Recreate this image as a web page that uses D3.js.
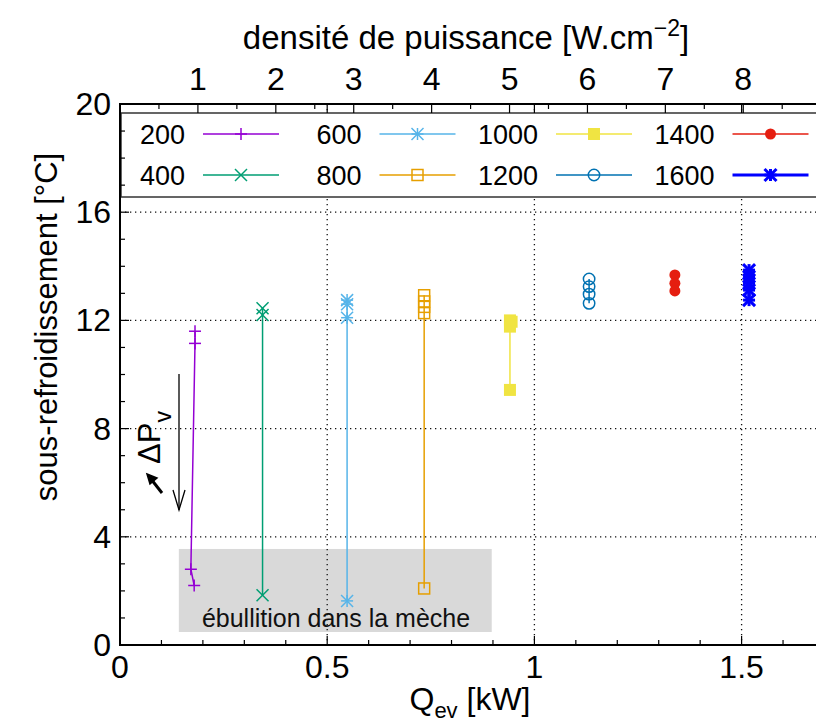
<!DOCTYPE html>
<html><head><meta charset="utf-8">
<script src="https://cdn.jsdelivr.net/npm/d3@7"></script>
<style>body{margin:0;background:#fff}svg{display:block;font-family:"Liberation Sans",Arial,sans-serif}</style>
</head><body><svg id="c" width="816" height="726"></svg>
<script>
// ---- data ----
const seriesLabels = ["200","400","600","800","1000","1200","1400","1600"];
const seriesColors = ["#9400d3","#009e73","#56b4e9","#e69f00","#f0e442","#0072b2","#e51e10","#0000ff"];
const seriesMarkers = ["plus","cross","star","sqOpen","sqFill","circOpen","circFill","star"];
const q200 = [0.181,0.181,0.171,0.179],          t200 = [11.6,11.15,2.8,2.2];
const q400 = [0.344,0.344,0.344],                t400 = [12.45,12.2,1.84];
const q600 = [0.548,0.548,0.548,0.548],          t600 = [12.75,12.6,12.1,1.63];
const q800 = [0.734,0.734,0.734,0.734,0.734],    t800 = [12.93,12.7,12.5,12.27,2.09];
const q1000 = [0.941,0.945,0.941,0.941],         t1000 = [12.0,11.95,11.77,9.43];
const q1200 = [1.132,1.132,1.132,1.132],         t1200 = [13.53,13.25,12.97,12.63];
const q1400 = [1.339,1.339,1.339],               t1400 = [13.68,13.37,13.09];
const q1600 = [1.518,1.518,1.518,1.518,1.518],   t1600 = [13.86,13.62,13.37,13.12,12.75];
const xTicks = [0,0.5,1,1.5];
const xMinor = [0.1,0.2,0.3,0.4,0.6,0.7,0.8,0.9,1.1,1.2,1.3,1.4,1.6];
const yTicks = [0,4,8,12,16,20];
const yMinor = [1,2,3,5,6,7,9,10,11,13,14,15,17,18,19];
const x2Ticks = [1,2,3,4,5,6,7,8];
const x2Minor = [0.5,1.5,2.5,3.5,4.5,5.5,6.5,7.5,8.5];
const boilBox = {x0:0.142, x1:0.897, y0:0.48, y1:3.55};

const qs = [q200,q400,q600,q800,q1000,q1200,q1400,q1600];
const ts = [t200,t400,t600,t800,t1000,t1200,t1400,t1600];

// ---- layout ----
const L=120, T=104, B=645;
const x = d3.scaleLinear().domain([0,1.7]).range([L, L+1.7*414.4]);
const x2 = d3.scaleLinear().domain([0,1.7*1000/188]).range([L, L+1.7*414.4]);
const y = d3.scaleLinear().domain([0,20]).range([B,T]);
const svg = d3.select("#c");
const W = 900;

// gray box
svg.append("rect").attr("x",x(boilBox.x0)).attr("y",y(boilBox.y1))
  .attr("width",x(boilBox.x1)-x(boilBox.x0)).attr("height",y(boilBox.y0)-y(boilBox.y1))
  .attr("fill","#d9d9d9");

// grid
const grid = svg.append("g").attr("stroke","#111").attr("stroke-width",1.3).attr("stroke-dasharray","1.3,3.7");
yTicks.filter(v=>v>0&&v<20).forEach(v=>grid.append("line").attr("x1",L).attr("x2",W).attr("y1",y(v)).attr("y2",y(v)));
xTicks.filter(v=>v>0).forEach(v=>grid.append("line").attr("x1",x(v)).attr("x2",x(v)).attr("y1",T).attr("y2",B));

svg.append("text").attr("x",336).attr("y",627).attr("text-anchor","middle")
  .attr("font-size",25).attr("fill","#111").text("ébullition dans la mèche");

// markers
function marker(g, type, cx, cy, color, sw){
  const s=6;
  const ln=(a,b,c,d)=>g.append("line").attr("x1",a).attr("y1",b).attr("x2",c).attr("y2",d).attr("stroke",color).attr("stroke-width",sw);
  if(type==="plus"||type==="star"){ln(cx-s,cy,cx+s,cy);ln(cx,cy-s,cx,cy+s);}
  if(type==="cross"||type==="star"){ln(cx-s,cy-s,cx+s,cy+s);ln(cx-s,cy+s,cx+s,cy-s);}
  if(type==="sqOpen") g.append("rect").attr("x",cx-5.5).attr("y",cy-5.5).attr("width",11).attr("height",11).attr("fill","none").attr("stroke",color).attr("stroke-width",sw);
  if(type==="sqFill") g.append("rect").attr("x",cx-6).attr("y",cy-6).attr("width",12).attr("height",12).attr("fill",color);
  if(type==="circOpen") g.append("circle").attr("cx",cx).attr("cy",cy).attr("r",5.7).attr("fill","none").attr("stroke",color).attr("stroke-width",sw);
  if(type==="circFill") g.append("circle").attr("cx",cx).attr("cy",cy).attr("r",5.5).attr("fill",color);
}

const line = d3.line().x(d=>x(d[0])).y(d=>y(d[1]));
qs.forEach((q,i)=>{
  const pts = q.map((v,j)=>[v,ts[i][j]]);
  const sw = i===7?3:1.5;
  const g = svg.append("g");
  g.append("path").attr("d",line(pts)).attr("fill","none").attr("stroke",seriesColors[i]).attr("stroke-width",sw);
  pts.forEach(p=>marker(g,seriesMarkers[i],x(p[0]),y(p[1]),seriesColors[i],i===7?3:1.5));
});

// legend
svg.append("rect").attr("x",121).attr("y",113).attr("width",W).attr("height",84)
  .attr("fill","#fff").attr("stroke","#333").attr("stroke-width",1.5);
seriesLabels.forEach((lab,i)=>{
  const col=Math.floor(i/2), row=i%2;
  const cx0 = 120 + col*176.5, cy = row===0?134:175;
  svg.append("text").attr("x",cx0+65).attr("y",cy+10).attr("text-anchor","end").attr("font-size",27).text(lab);
  const sw = i===7?3:1.5;
  const g = svg.append("g");
  g.append("line").attr("x1",cx0+83).attr("x2",cx0+159).attr("y1",cy).attr("y2",cy).attr("stroke",seriesColors[i]).attr("stroke-width",sw);
  marker(g,seriesMarkers[i],cx0+121,cy,seriesColors[i],sw);
});

// border
svg.append("path").attr("d",`M${W},${T}H${L}V${B}H${W}`).attr("fill","none").attr("stroke","#000").attr("stroke-width",2);

// ticks
const tk = svg.append("g").attr("stroke","#000").attr("stroke-width",1.2);
xTicks.forEach(v=>{tk.append("line").attr("x1",x(v)).attr("x2",x(v)).attr("y1",B).attr("y2",B-9);
                   tk.append("line").attr("x1",x(v)).attr("x2",x(v)).attr("y1",T).attr("y2",T+9);});
xMinor.forEach(v=>{tk.append("line").attr("x1",x(v)).attr("x2",x(v)).attr("y1",B).attr("y2",B-5);});
yTicks.forEach(v=>tk.append("line").attr("x1",L).attr("x2",L+9).attr("y1",y(v)).attr("y2",y(v)));
yMinor.forEach(v=>tk.append("line").attr("x1",L).attr("x2",L+5).attr("y1",y(v)).attr("y2",y(v)));
x2Ticks.forEach(v=>tk.append("line").attr("x1",x2(v)).attr("x2",x2(v)).attr("y1",T).attr("y2",T+9));
x2Minor.forEach(v=>tk.append("line").attr("x1",x2(v)).attr("x2",x2(v)).attr("y1",T).attr("y2",T+5));

// tick labels
const fs=32;
xTicks.forEach(v=>svg.append("text").attr("x",x(v)).attr("y",B+33).attr("text-anchor","middle").attr("font-size",fs).text(d3.format("")(v)));
yTicks.forEach(v=>svg.append("text").attr("x",L-9).attr("y",y(v)+11).attr("text-anchor","end").attr("font-size",fs).text(v));
x2Ticks.forEach(v=>svg.append("text").attr("x",x2(v)).attr("y",90).attr("text-anchor","middle").attr("font-size",fs).text(v));

// axis titles
const t1 = svg.append("text").attr("x",466).attr("y",49).attr("text-anchor","middle").attr("font-size",33);
t1.append("tspan").text("densité de puissance [W.cm");
t1.append("tspan").attr("dy",-13).attr("font-size",23).text("−2");
t1.append("tspan").attr("dy",13).text("]");

const t2 = svg.append("text").attr("x",470).attr("y",710).attr("text-anchor","middle").attr("font-size",32);
t2.append("tspan").text("Q");
t2.append("tspan").attr("dy",8).attr("font-size",22).text("ev");
t2.append("tspan").attr("dy",-8).text(" [kW]");

svg.append("text").attr("transform","translate(57,327) rotate(-90)").attr("text-anchor","middle")
  .attr("font-size",31).text("sous-refroidissement [°C]");

// ΔPv annotation
const t3 = svg.append("text").attr("transform","translate(160,464) rotate(-90)").attr("font-size",31);
t3.append("tspan").text("ΔP");
t3.append("tspan").attr("dy",11).attr("font-size",23).text("v");
svg.append("line").attr("x1",179).attr("x2",179).attr("y1",374).attr("y2",510).attr("stroke","#000").attr("stroke-width",1.3);
svg.append("path").attr("d","M173,490L179,510L185,490").attr("fill","none").attr("stroke","#000").attr("stroke-width",1.3);
svg.append("line").attr("x1",162).attr("y1",493).attr("x2",151).attr("y2",479).attr("stroke","#000").attr("stroke-width",3);
svg.append("path").attr("d","M147,474L157,478L150,484Z").attr("fill","#000").attr("stroke","#000").attr("stroke-width",1.5);
</script></body></html>
